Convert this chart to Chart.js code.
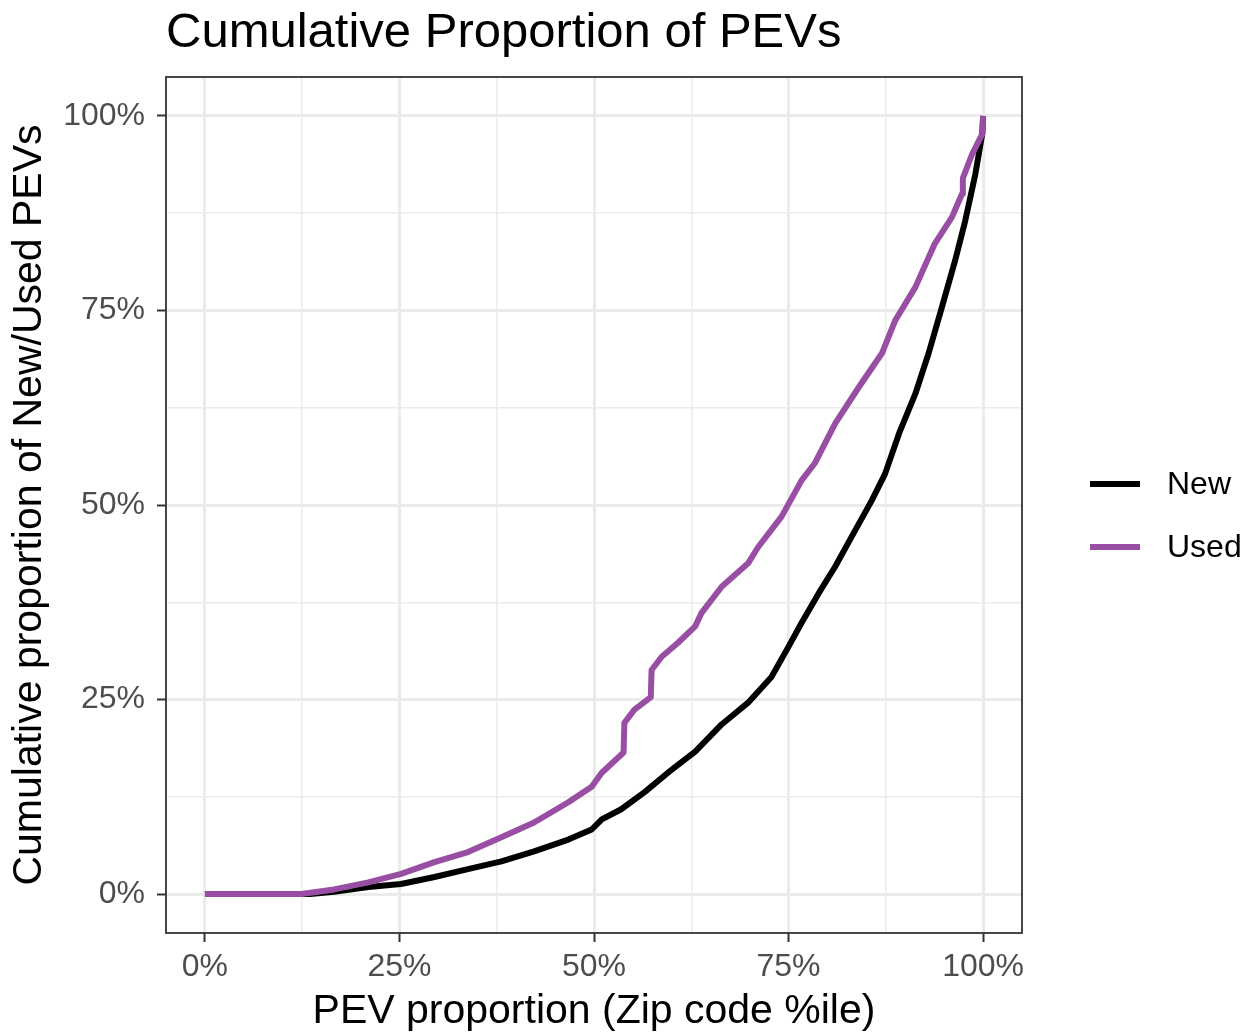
<!DOCTYPE html>
<html>
<head>
<meta charset="utf-8">
<title>Cumulative Proportion of PEVs</title>
<script src="https://cdn.jsdelivr.net/npm/chart.js@4.4.1/dist/chart.umd.min.js"></script>
<style>
  html, body { margin: 0; padding: 0; background: #ffffff; }
  #wrap { width: 1252px; height: 1032px; }
</style>
</head>
<body>
<div id="wrap"><canvas id="chart" width="1252" height="1032"></canvas></div>
<script>
// values (percent)
const newX = [0, 13.5, 16.6, 21, 25.2, 29.5, 33.8, 38.1, 42.3, 46.7, 49.7, 51, 53.5, 56.5, 59.5, 63, 66.4, 69.8, 72.8, 75, 76.7, 78.9, 81, 83.1, 85.7, 87.4, 89.2, 91.3, 93, 94.7, 96.4, 97.7, 99, 99.9, 100];
const newY = [0, 0, 0.3, 0.9, 1.3, 2.2, 3.2, 4.2, 5.5, 7, 8.3, 9.6, 10.9, 13.1, 15.6, 18.3, 21.8, 24.6, 27.9, 31.8, 34.9, 38.7, 42.1, 45.9, 50.6, 54, 59.2, 64.3, 69.5, 75.4, 81.4, 86.5, 92.5, 97.7, 100];

const usedX = [0, 12.4, 16.6, 21, 25.2, 29.5, 33.8, 38.1, 42.3, 46.7, 49.7, 51, 53.8, 53.9, 55.2, 57.3, 57.4, 58.7, 60.8, 63, 63.8, 66.4, 69.8, 71.1, 74.1, 76.7, 78.4, 81, 84, 87, 88.7, 91.3, 93.8, 96, 97.3, 97.4, 98.6, 99.9, 100];
const usedY = [0, 0, 0.6, 1.5, 2.6, 4.1, 5.4, 7.3, 9.2, 11.8, 13.8, 15.6, 18.2, 22, 23.7, 25.3, 28.8, 30.5, 32.3, 34.4, 36.1, 39.5, 42.5, 44.6, 48.5, 53.2, 55.4, 60.5, 65.1, 69.5, 73.7, 78, 83.6, 87, 90, 92, 95.1, 97.7, 100];

const seriesNames = ['New', 'Used'];
const seriesColors = ['#000000', '#984EA3'];
const tickVals = [0, 12.5, 25, 37.5, 50, 62.5, 75, 87.5, 100];

const FONT = "'Liberation Sans', Arial, sans-serif";

function toPoints(xs, ys) {
  return xs.map((x, i) => ({ x: x, y: ys[i] }));
}

function isMajor(v) {
  return v % 25 === 0;
}

const gridOpts = {
  color: '#EBEBEB',
  lineWidth: (c) => (c.tick && isMajor(c.tick.value) ? 3 : 1.5),
  drawTicks: true,
  tickLength: 9,
  tickWidth: 2,
  tickColor: (c) => (c.tick && isMajor(c.tick.value) ? '#333333' : 'rgba(0,0,0,0)'),
};

const tickOpts = {
  autoSkip: false,
  maxRotation: 0,
  color: '#4D4D4D',
  font: { family: FONT, size: 32 },
  callback: (v) => (isMajor(v) ? v + '%' : ''),
};

// panel border, title and legend in ggplot style
const decor = {
  id: 'decor',
  afterDraw(chart) {
    const { ctx, chartArea: a } = chart;
    ctx.save();
    ctx.strokeStyle = '#333333';
    ctx.lineWidth = 1.8;
    ctx.strokeRect(a.left, a.top, a.right - a.left, a.bottom - a.top);

    ctx.fillStyle = '#000000';
    ctx.font = '49px ' + FONT;
    ctx.textAlign = 'left';
    ctx.textBaseline = 'alphabetic';
    ctx.fillText('Cumulative Proportion of PEVs', a.left, 47);

    const rows = [484, 547];
    ctx.font = '32px ' + FONT;
    ctx.textBaseline = 'middle';
    seriesNames.forEach((name, i) => {
      ctx.strokeStyle = seriesColors[i];
      ctx.lineWidth = 6;
      ctx.beginPath();
      ctx.moveTo(1090, rows[i]);
      ctx.lineTo(1140, rows[i]);
      ctx.stroke();
      ctx.fillStyle = '#000000';
      ctx.fillText(name, 1167, rows[i] + 1);
    });
    ctx.restore();
  }
};

const ctx = document.getElementById('chart').getContext('2d');
const chart = new Chart(ctx, {
  type: 'line',
  data: {
    datasets: [
      {
        label: seriesNames[0],
        data: toPoints(newX, newY),
        borderColor: seriesColors[0],
        borderWidth: 6,
        order: 1,
      },
      {
        label: seriesNames[1],
        data: toPoints(usedX, usedY),
        borderColor: seriesColors[1],
        borderWidth: 6,
        order: 0,
      },
    ],
  },
  options: {
    responsive: false,
    animation: false,
    devicePixelRatio: 1,
    elements: {
      point: { radius: 0, hoverRadius: 0 },
      line: { tension: 0, borderCapStyle: 'butt', borderJoinStyle: 'round' },
    },
    layout: { padding: { top: 77, right: 230, bottom: 0, left: 0 } },
    plugins: {
      legend: { display: false },
      title: { display: false },
      tooltip: { enabled: false },
    },
    scales: {
      x: {
        type: 'linear',
        min: -5,
        max: 105,
        grid: gridOpts,
        border: { display: false },
        ticks: Object.assign({ padding: 6 }, tickOpts),
        afterBuildTicks: (s) => { s.ticks = tickVals.map((v) => ({ value: v })); },
        afterFit: (s) => { s.height = 99; },
        title: {
          display: true,
          text: 'PEV proportion (Zip code %ile)',
          color: '#000000',
          font: { family: FONT, size: 41, lineHeight: 1 },
          padding: { top: 0, bottom: 0 },
        },
      },
      y: {
        type: 'linear',
        min: -5,
        max: 105,
        grid: gridOpts,
        border: { display: false },
        ticks: Object.assign({ padding: 12 }, tickOpts),
        afterBuildTicks: (s) => { s.ticks = tickVals.map((v) => ({ value: v })); },
        afterFit: (s) => { s.width = 166; },
        title: {
          display: true,
          text: 'Cumulative proportion of New/Used PEVs',
          color: '#000000',
          font: { family: FONT, size: 41, lineHeight: 1 },
          padding: { top: 9, bottom: 0 },
        },
      },
    },
  },
  plugins: [decor],
});
</script>
</body>
</html>
